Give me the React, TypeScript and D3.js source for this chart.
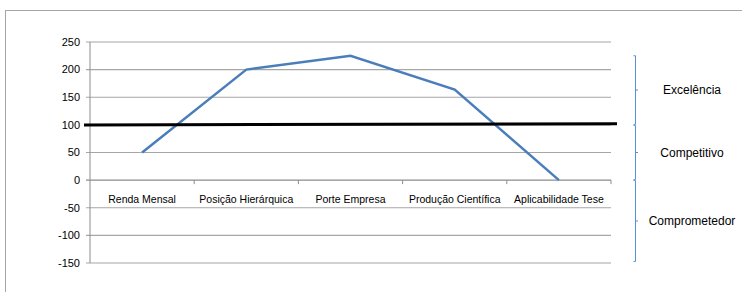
import React from "react";
import * as d3 from "d3";

const categories = [
  "Renda Mensal",
  "Posição Hierárquica",
  "Porte Empresa",
  "Produção Científica",
  "Aplicabilidade Tese",
];
const values = [50, 200, 225, 164, 0];
const yTicks = [250, 200, 150, 100, 50, 0, -50, -100, -150];
// reference line (start, end value)
const thresholdLine = [100, 102];
const zoneLabels = ["Excelência", "Competitivo", "Comprometedor"];
const zoneRanges = [
  [226, 100],
  [100, 0],
  [0, -148],
];

const width = 742;
const height = 292;
const margin = { top: 42, right: 131, bottom: 29, left: 90 };
const font = "'Liberation Sans', Arial, sans-serif";
const blue = "#4a7ebb";

const App = () => {
  const x = d3
    .scaleBand()
    .domain(categories)
    .range([margin.left, width - margin.right]);
  const y = d3
    .scaleLinear()
    .domain([-150, 250])
    .range([height - margin.bottom, margin.top]);

  const line = d3
    .line<number>()
    .x((_, i) => x(categories[i])! + x.bandwidth() / 2)
    .y((d) => y(d));

  const x0 = margin.left;
  const x1 = width - margin.right;
  const bx = 635.5;

  return (
    <div style={{ position: "absolute", left: 0, top: 0 }}>
      <svg width={width} height={height} style={{ display: "block", background: "#fff" }}>
        <rect x={5.5} y={10.5} width={760} height={300} fill="none" stroke="#a6a6a6" />
        {yTicks.map((t) => (
          <g key={t}>
            <line x1={x0 - 4} x2={x1} y1={y(t)} y2={y(t)} stroke={t === 0 ? "#8c8c8c" : "#a6a6a6"} strokeWidth={1.2} />
            <text x={x0 - 10} y={y(t)} dy="0.35em" textAnchor="end" fontFamily={font} fontSize={11} fill="#000">
              {t}
            </text>
          </g>
        ))}
        <line x1={x0} x2={x0} y1={y(250)} y2={y(-150)} stroke="#8c8c8c" />
        {categories.map((c, i) => (
          <g key={c}>
            {i > 0 && (
              <line x1={x(c)} x2={x(c)} y1={y(0)} y2={y(0) + 4} stroke="#8c8c8c" />
            )}
            <text
              x={x(c)! + x.bandwidth() / 2}
              y={y(0) + 19}
              dy="0.35em"
              textAnchor="middle"
              fontFamily={font}
              fontSize={10.5}
              fill="#000"
            >
              {c}
            </text>
          </g>
        ))}
        <line x1={x1} x2={x1} y1={y(0)} y2={y(0) + 4} stroke="#8c8c8c" />
        <path d={line(values) || ""} fill="none" stroke={blue} strokeWidth={2.5} />
        <line
          x1={84}
          x2={617}
          y1={y(thresholdLine[0])}
          y2={y(thresholdLine[1])}
          stroke="#000"
          strokeWidth={3}
        />
        {zoneRanges.map(([a, b], i) => {
          const ya = y(a);
          const yb = y(b);
          const ym = (ya + yb) / 2;
          return (
            <g key={i}>
              <path
                d={`M${bx - 2},${ya + 0.5}H${bx}V${yb - 0.5}H${bx - 2}M${bx},${ym}H${bx + 2.5}`}
                fill="none"
                stroke="#5b8fd4"
                strokeWidth={1}
              />
              <text x={692} y={ym} dy="0.35em" textAnchor="middle" fontFamily={font} fontSize={12} fill="#000">
                {zoneLabels[i]}
              </text>
            </g>
          );
        })}
      </svg>
    </div>
  );
};

export default App;
